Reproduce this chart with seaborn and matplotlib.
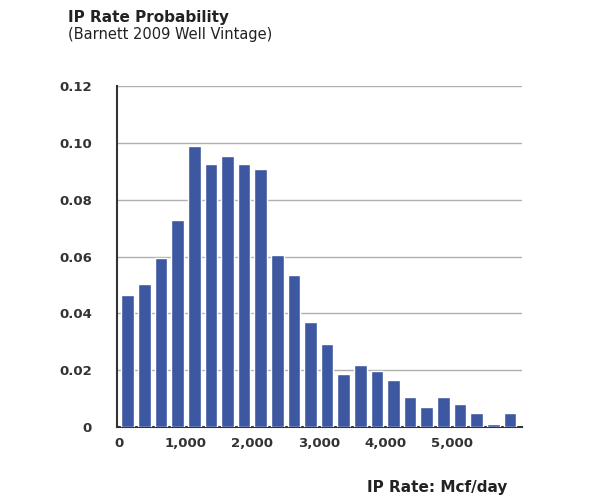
import numpy as np
import pandas as pd
import seaborn as sns
import matplotlib.pyplot as plt
from matplotlib.ticker import FuncFormatter

# bin centres (Mcf/day) and probabilities
rate_bins = [125 + 250 * i for i in range(24)]
probability = [0.0466, 0.0502, 0.0595, 0.073, 0.099, 0.0927, 0.0952, 0.0927,
               0.0907, 0.0607, 0.0534, 0.0368, 0.0293, 0.0187, 0.0217, 0.0198,
               0.0167, 0.0104, 0.0072, 0.0104, 0.008, 0.0048, 0.001, 0.0048]
y_ticks = [0, 0.02, 0.04, 0.06, 0.08, 0.10, 0.12]
x_ticks = [0, 1000, 2000, 3000, 4000, 5000]

df = pd.DataFrame({"rate": rate_bins, "prob": probability})

sns.set_style("white")
fig = plt.figure(figsize=(5.9, 5.0), dpi=100)
ax = fig.add_axes([0.198, 0.146, 0.687, 0.682])

ax.bar(df["rate"], df["prob"], width=190, color="#3d58a0", zorder=3)

ax.set_xlim(-40, 6060)
ax.set_ylim(0, 0.12)
ax.set_yticks(y_ticks)
ax.set_yticklabels(["0", "0.02", "0.04", "0.06", "0.08", "0.10", "0.12"])
ax.set_xticks(x_ticks)
ax.xaxis.set_major_formatter(FuncFormatter(lambda v, p: f"{int(v):,}"))
ax.grid(axis="y", color="#b0b0b0", linewidth=1, zorder=0)
for s in ["top", "right"]:
    ax.spines[s].set_visible(False)
for s in ["left", "bottom"]:
    ax.spines[s].set_color("#333333")
    ax.spines[s].set_linewidth(1.5)
ax.tick_params(axis="both", length=4, color="#333333", labelsize=9.5, labelcolor="#333333")
for lbl in ax.get_xticklabels() + ax.get_yticklabels():
    lbl.set_fontweight("bold")
ax.tick_params(axis="y", pad=14)

fig.text(0.115, 0.965, "IP Rate Probability", fontsize=11, fontweight="bold", color="#222222", va="center")
fig.text(0.115, 0.93, "(Barnett 2009 Well Vintage)", fontsize=10.5, color="#222222", va="center")
fig.text(0.86, 0.025, "IP Rate: Mcf/day", fontsize=11, fontweight="bold", color="#222222", ha="right", va="center")

fig.savefig("out.png", dpi=100)
